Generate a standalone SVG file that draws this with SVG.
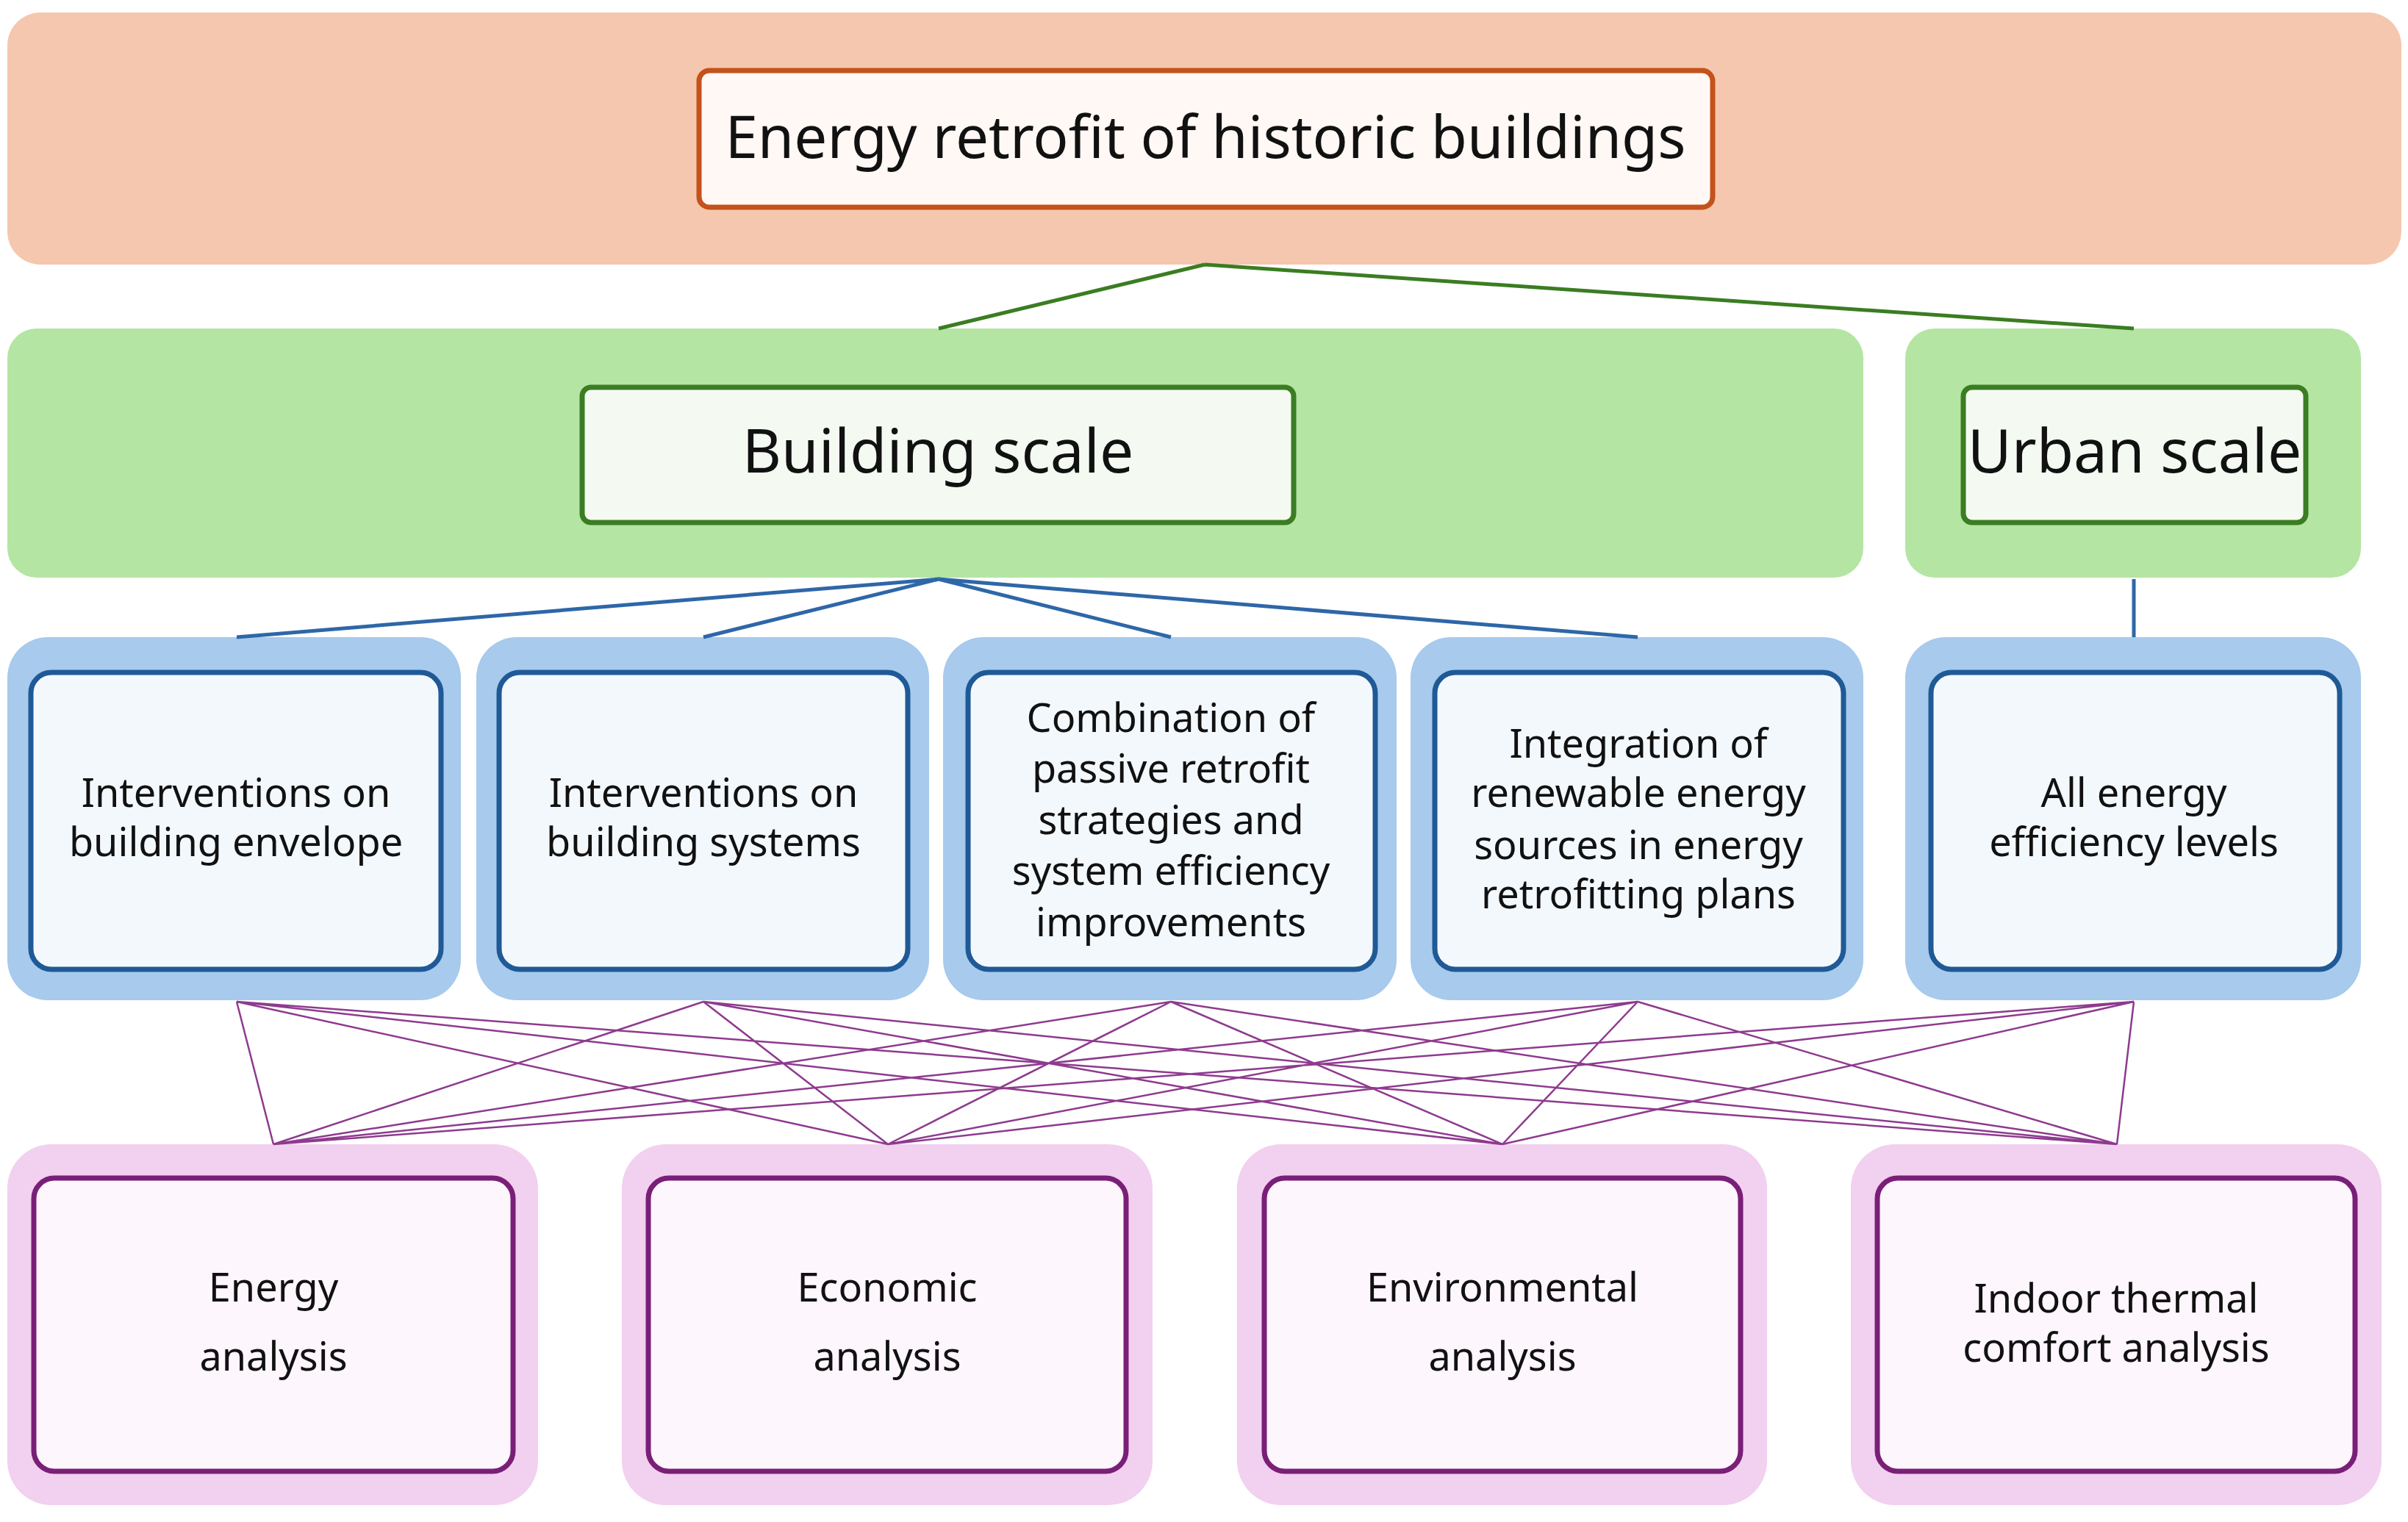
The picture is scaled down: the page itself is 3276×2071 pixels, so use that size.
<svg xmlns="http://www.w3.org/2000/svg" width="3276" height="2071" viewBox="0 0 3276 2071">
<style>
text{font-family:"Noto Sans","Open Sans",sans-serif;font-size:54px;fill:#111;text-anchor:middle}
text.big{font-size:80px}
text.mid{font-size:82px}
.ob{fill:#f5c7ae}.gb{fill:#b4e5a3}.bb{fill:#a7caed}.pb{fill:#f2d0ef}
.ot{fill:#fff8f5;stroke:#c4521a;stroke-width:7}
.gt{fill:#f4faf1;stroke:#3a7d22;stroke-width:7}
.bt{fill:#f3f8fd;stroke:#1f5a96;stroke-width:7}
.pt{fill:#fdf6fc;stroke:#7a1f78;stroke-width:7}
.gl{stroke:#3a7d22;stroke-width:5;fill:none}
.bl{stroke:#2e67a8;stroke-width:5;fill:none}
.pl{stroke:#8e3a8e;stroke-width:2.5;fill:none}
</style>
<rect width="3276" height="2071" fill="#fff"/>
<g id="top"><rect class="ob" x="10" y="17" width="3257" height="343" rx="45"/><rect class="ot" x="951" y="96" width="1379" height="186" rx="14"/><text class="big" x="1640" y="215">Energy retrofit of historic buildings</text></g>
<g id="building"><rect class="gb" x="10" y="447" width="2525" height="339" rx="40"/><rect class="gt" x="792" y="527" width="968" height="184" rx="12"/><text class="mid" x="1276" y="643">Building scale</text></g>
<g id="urban"><rect class="gb" x="2592" y="447" width="620" height="339" rx="40"/><rect class="gt" x="2671" y="527" width="466" height="184" rx="12"/><text class="mid" x="2904" y="643">Urban scale</text></g>
<g id="b1"><rect class="bb" x="10" y="867" width="617" height="494" rx="55"/><rect class="bt" x="42" y="915" width="558" height="404" rx="28"/><text x="321" y="1098">Interventions on</text><text x="321" y="1165">building envelope</text></g>
<g id="b2"><rect class="bb" x="648" y="867" width="616" height="494" rx="55"/><rect class="bt" x="679" y="915" width="556" height="404" rx="28"/><text x="957" y="1098">Interventions on</text><text x="957" y="1165">building systems</text></g>
<g id="b3"><rect class="bb" x="1283" y="867" width="617" height="494" rx="55"/><rect class="bt" x="1317" y="915" width="554" height="404" rx="28"/><text x="1593" y="996">Combination of</text><text x="1593" y="1065">passive retrofit</text><text x="1593" y="1135">strategies and</text><text x="1593" y="1204">system efficiency</text><text x="1593" y="1274">improvements</text></g>
<g id="b4"><rect class="bb" x="1919" y="867" width="616" height="494" rx="55"/><rect class="bt" x="1952" y="915" width="556" height="404" rx="28"/><text x="2229" y="1031">Integration of</text><text x="2229" y="1098">renewable energy</text><text x="2229" y="1169">sources in energy</text><text x="2229" y="1236">retrofitting plans</text></g>
<g id="b5"><rect class="bb" x="2592" y="867" width="620" height="494" rx="55"/><rect class="bt" x="2627" y="915" width="556" height="404" rx="28"/><text x="2903" y="1098">All energy</text><text x="2903" y="1165">efficiency levels</text></g>
<g id="p1"><rect class="pb" x="10" y="1557" width="722" height="491" rx="60"/><rect class="pt" x="46" y="1603" width="652" height="399" rx="28"/><text x="372" y="1771">Energy</text><text x="372" y="1865">analysis</text></g>
<g id="p2"><rect class="pb" x="846" y="1557" width="722" height="491" rx="60"/><rect class="pt" x="882" y="1603" width="650" height="399" rx="28"/><text x="1207" y="1771">Economic</text><text x="1207" y="1865">analysis</text></g>
<g id="p3"><rect class="pb" x="1683" y="1557" width="721" height="491" rx="60"/><rect class="pt" x="1720" y="1603" width="648" height="399" rx="28"/><text x="2044" y="1771">Environmental</text><text x="2044" y="1865">analysis</text></g>
<g id="p4"><rect class="pb" x="2518" y="1557" width="722" height="491" rx="60"/><rect class="pt" x="2554" y="1603" width="650" height="399" rx="28"/><text x="2879" y="1786">Indoor thermal</text><text x="2879" y="1853">comfort analysis</text></g>
<g id="connectors">
<path class="gl" d="M1639 360L1277 447M1639 360L2903 447"/>
<path class="bl" d="M1277 788L322 867M1277 788L957 867M1277 788L1593 867M1277 788L2228 867M2903 788L2903 867"/>
<path class="pl" d="M322 1363L372 1557M322 1363L1208 1557M322 1363L2044 1557M322 1363L2880 1557M957 1363L372 1557M957 1363L1208 1557M957 1363L2044 1557M957 1363L2880 1557M1593 1363L372 1557M1593 1363L1208 1557M1593 1363L2044 1557M1593 1363L2880 1557M2228 1363L372 1557M2228 1363L1208 1557M2228 1363L2044 1557M2228 1363L2880 1557M2903 1363L372 1557M2903 1363L1208 1557M2903 1363L2044 1557M2903 1363L2880 1557"/>
</g>
</svg>
